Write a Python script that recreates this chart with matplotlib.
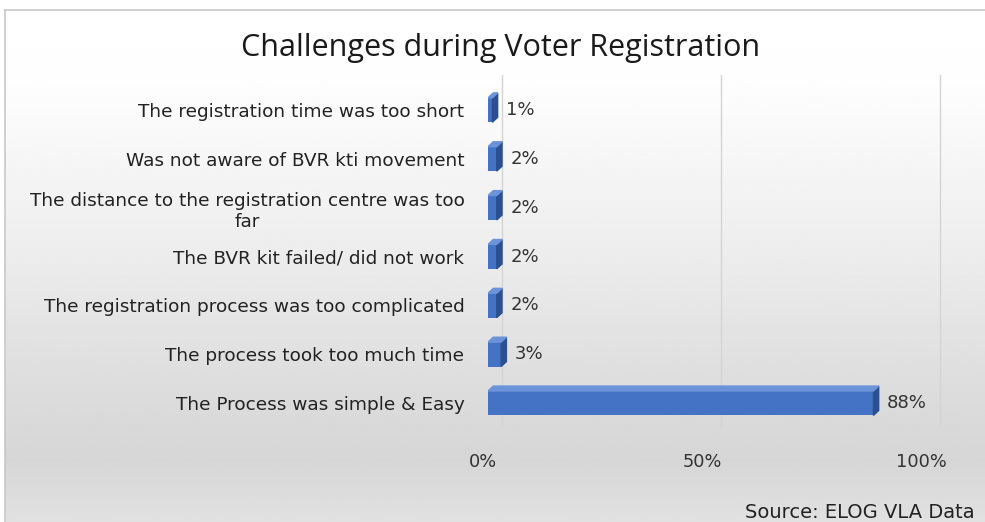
import numpy as np
import matplotlib.pyplot as plt
from matplotlib.patches import Polygon
import matplotlib.transforms as mtransforms

categories = ['The registration time was too short',
              'Was not aware of BVR kti movement',
              'The distance to the registration centre was too\nfar',
              'The BVR kit failed/ did not work',
              'The registration process was too complicated',
              'The process took too much time',
              'The Process was simple & Easy']
values = [1, 2, 2, 2, 2, 3, 88]
xticks = [0, 50, 100]
xticklabels = ['0%', '50%', '100%']

front = '#4472c4'
side = '#2c4f8f'
top = '#6b93da'

fig = plt.figure(figsize=(9.85, 5.22), dpi=100)

# background panel with vertical gradient
bg = fig.add_axes([5/985, 0.0, 1 - 5/985, 1 - 10/522], zorder=0)
ys = np.linspace(0, 1, 300)
stops_y = [0, 0.15, 0.45, 0.75, 0.88, 1.0]
stops_c = [255, 253, 238, 220, 214, 225]
g = np.interp(ys, stops_y, stops_c) / 255
bg.imshow(np.repeat(g[:, None], 2, axis=1), cmap='gray', vmin=0, vmax=1,
          aspect='auto', extent=[0, 1, 1, 0])
bg.set_xlim(0, 1)
bg.set_ylim(1, 0)
bg.set_xticks([])
bg.set_yticks([])
for s in ['right', 'bottom']:
    bg.spines[s].set_visible(False)
for s in ['left', 'top']:
    bg.spines[s].set_color('#c8c8c8')
    bg.spines[s].set_linewidth(1.2)

ax = fig.add_axes([488/985, 1 - 427.6/522, 438/985, 342/522], zorder=1)
ax.patch.set_alpha(0)
y = np.arange(len(categories))
ax.set_xlim(0, 100)
ax.set_ylim(len(categories) - 0.5, -0.5)

# gridlines (shifted right, as in the 3D chart)
gtrans = mtransforms.offset_copy(ax.get_xaxis_transform(), fig=fig, x=14, units='dots')
for xt in xticks:
    ax.plot([xt, xt], [0.0, 1.03], transform=gtrans, color='#d4d4d4', lw=1.0,
            clip_on=False, zorder=0)

h = 0.5
dx = 1.2
dy = 0.1
bars = ax.barh(y, values, height=h, color=front, zorder=3)
for yi, v in zip(y, values):
    y0 = yi - h / 2
    y1 = yi + h / 2
    ax.add_patch(Polygon([[v, y0], [v + dx, y0 - dy], [v + dx, y1 - dy], [v, y1]],
                         closed=True, color=side, zorder=3))
    ax.add_patch(Polygon([[0, y0], [dx, y0 - dy], [v + dx, y0 - dy], [v, y0]],
                         closed=True, color=top, zorder=3))
    ax.annotate(f'{v}%', xy=(v + dx, yi), xytext=(6, 0), textcoords='offset points',
                va='center', ha='left', fontsize=13, color='#333333',
                family='DejaVu Sans')

ax.set_yticks(y)
ax.set_yticklabels(categories, fontsize=13.3, color='#222222', family='DejaVu Sans',
                   multialignment='center')
ax.set_xticks(xticks)
ax.set_xticklabels(xticklabels, fontsize=12.8, color='#333333', family='DejaVu Sans')
ax.tick_params(axis='y', length=0, pad=17)
ax.tick_params(axis='x', length=0, pad=18)
shift = mtransforms.ScaledTranslation(-5/100, 0, fig.dpi_scale_trans)
for lab in ax.get_xticklabels():
    lab.set_transform(lab.get_transform() + shift)
for s in ax.spines.values():
    s.set_visible(False)

fig.text(501/985, 1 - 48/522, 'Challenges during Voter Registration', ha='center',
         va='center', fontsize=22, color='#1a1a1a', family='Open Sans')
fig.text(975/985, 1 - 512/522, 'Source: ELOG VLA Data', ha='right', va='center',
         fontsize=14, color='#222222', family='DejaVu Sans')

fig.savefig('out.png', dpi=100)
